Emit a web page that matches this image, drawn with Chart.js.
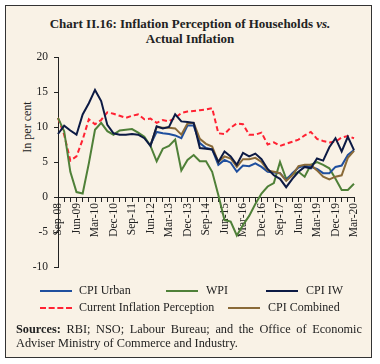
<!DOCTYPE html>
<html>
<head>
<meta charset="utf-8">
<script src="https://cdn.jsdelivr.net/npm/chart.js@4.4.1/dist/chart.umd.min.js"></script>
<style>
  body { margin: 0; background: #fff; }
  #wrap { position: relative; width: 380px; height: 364px; overflow: hidden; font-family: "Liberation Serif", serif; color: #222; }
  #panel { position: absolute; left: 5px; top: 5px; width: 367px; height: 353px; box-sizing: border-box; border: 1.5px solid #333; background: #f9f2e6; }
  #title { position: absolute; left: 0; top: 16px; width: 380px; text-align: center; font-weight: bold; font-size: 13px; line-height: 15px; color: #222; }
  #ytitle { position: absolute; left: 27px; top: 127px; transform: translate(-50%, -50%) rotate(-90deg); font-size: 12px; white-space: nowrap; }
  canvas { position: absolute; left: 0; top: 0; }
  .sw { position: absolute; width: 32px; height: 0; border-top: 2px solid; }
  .lt { position: absolute; font-size: 12px; line-height: 14px; white-space: nowrap; }
  #src { position: absolute; left: 16px; top: 322px; width: 346px; font-size: 12.3px; line-height: 14px; text-align: justify; text-align-last: left; }
</style>
</head>
<body>
<div id="wrap">
  <div id="panel"></div>
  <div id="title">Chart II.16: Inflation Perception of Households <i>vs.</i><br>Actual Inflation</div>
  <div id="ytitle">In per cent</div>
  <canvas id="chart" width="380" height="364"></canvas>

  <div class="sw" style="left:40px;top:290px;border-color:#1f4f9e"></div><div class="lt" style="left:79px;top:283px">CPI Urban</div>
  <div class="sw" style="left:166px;top:290px;border-color:#4f8038"></div><div class="lt" style="left:206px;top:283px">WPI</div>
  <div class="sw" style="left:266px;top:290px;border-color:#0c1a44"></div><div class="lt" style="left:306px;top:283px">CPI IW</div>
  <div class="sw" style="left:40px;top:307px;border-top:2px dashed #ff2233"></div><div class="lt" style="left:79px;top:300px">Current Inflation Perception</div>
  <div class="sw" style="left:228px;top:307px;border-color:#8a6a38"></div><div class="lt" style="left:268px;top:300px">CPI Combined</div>

  <div id="src"><b>Sources:</b> RBI; NSO; Labour Bureau; and the Office of Economic Adviser Ministry of Commerce and Industry.</div>
</div>

<script>
const quarters = ['Sep-08', 'Dec-08',
  'Mar-09', 'Jun-09', 'Sep-09', 'Dec-09', 'Mar-10', 'Jun-10', 'Sep-10', 'Dec-10',
  'Mar-11', 'Jun-11', 'Sep-11', 'Dec-11', 'Mar-12', 'Jun-12', 'Sep-12', 'Dec-12',
  'Mar-13', 'Jun-13', 'Sep-13', 'Dec-13', 'Mar-14', 'Jun-14', 'Sep-14', 'Dec-14',
  'Mar-15', 'Jun-15', 'Sep-15', 'Dec-15', 'Mar-16', 'Jun-16', 'Sep-16', 'Dec-16',
  'Mar-17', 'Jun-17', 'Sep-17', 'Dec-17', 'Mar-18', 'Jun-18', 'Sep-18', 'Dec-18',
  'Mar-19', 'Jun-19', 'Sep-19', 'Dec-19', 'Jan-20', 'Feb-20', 'Mar-20'];

const cpiIW = [9.0, 10.2, 9.5, 8.9, 11.8, 13.4, 15.3, 13.7, 10.3, 9.1, 8.9, 8.9, 9.0, 8.9, 8.4, 7.3,
  10.1, 9.8, 10.0, 11.8, 10.8, 10.7, 10.6, 7.0, 6.9, 6.8, 5.0, 6.5, 5.8, 4.6, 6.3, 5.8, 6.2, 5.4,
  4.0, 3.1, 2.6, 1.4, 2.6, 3.6, 4.3, 4.1, 5.5, 5.2, 7.1, 8.4, 6.5, 8.6, 6.7];

const wpi = [11.3, 9.4, 3.6, 0.7, 0.5, 4.8, 9.6, 10.6, 9.4, 8.9, 9.5, 9.6, 9.7, 9.2, 8.6, 7.3,
  5.1, 6.9, 7.3, 8.2, 3.8, 5.3, 6.0, 5.1, 5.1, 3.6, 0.3, -3.3, -3.5, -5.5, -4.0, -2.7, -1.0, 0.5,
  1.5, 2.0, 5.0, 2.6, 3.2, 3.6, 2.9, 4.6, 5.0, 4.6, 4.1, 2.6, 1.0, 1.0, 1.9];

const perception = [11.3, 8.9, 5.2, 5.8, 8.2, 11.1, 10.4, 11.0, 12.1, 11.9, 11.6, 11.3, 11.6, 11.8,
  11.1, 11.2, 10.6, 11.0, 10.8, 11.3, 12.0, 12.2, 12.3, 12.4, 12.5, 12.7, 9.1, 9.0, 9.9, 10.5, 10.4,
  8.9, 8.9, 9.2, 7.5, 7.8, 7.3, 7.6, 7.9, 8.2, 8.8, 9.3, 8.3, 8.0, 7.8, 7.9, 8.5, 8.7, 8.4];

// CPI Urban and CPI Combined only start in Jun-12
const cpiUrban = [null, null, null, null, null, null, null, null, null, null, null, null, null, null, null,
  7.5, 9.3, 9.1, 9.0, 8.8, 8.4, 10.2, 10.2, 7.7, 7.0, 6.8, 4.6, 5.3, 4.9, 3.6, 4.5, 4.4, 4.8, 4.3,
  3.6, 3.5, 3.4, 2.4, 3.4, 4.2, 4.5, 4.3, 4.0, 3.4, 3.4, 4.3, 4.5, 6.0, 6.7];

const cpiCombined = [null, null, null, null, null, null, null, null, null, null, null, null, null, null, null,
  7.4, 10.0, 9.9, 9.9, 9.8, 8.9, 10.5, 10.6, 8.3, 7.6, 7.2, 5.0, 5.8, 5.5, 4.3, 5.4, 5.4, 5.6, 5.0,
  3.8, 3.6, 3.4, 2.3, 3.1, 4.4, 4.6, 4.6, 3.8, 2.9, 2.5, 2.9, 3.1, 5.6, 6.6];

const axisFont = { family: 'Liberation Serif', size: 11.5 };

function line(data, color, dash) {
  return {
    data: data,
    borderColor: color,
    borderWidth: 2,
    borderDash: dash || [],
    pointRadius: 0,
    tension: 0,
    fill: false
  };
}

new Chart(document.getElementById('chart'), {
  type: 'line',
  data: {
    labels: quarters,
    datasets: [
      line(cpiIW, '#0c1a44'),
      line(cpiCombined, '#8a6a38'),
      line(cpiUrban, '#1f4f9e'),
      line(wpi, '#4f8038'),
      line(perception, '#ff2233', [5, 3])
    ]
  },
  options: {
    responsive: false,
    animation: false,
    layout: { padding: { top: 57, right: 26, bottom: 97, left: 0 } },
    plugins: { legend: { display: false }, tooltip: { enabled: false } },
    scales: {
      x: {
        position: { y: 0 },
        offset: false,
        grid: { drawOnChartArea: false, drawTicks: true, tickLength: 4, color: '#222' },
        border: { color: '#222', width: 1 },
        ticks: {
          autoSkip: false,
          maxRotation: 90,
          minRotation: 90,
          padding: 2,
          color: '#222',
          font: axisFont,
          callback: function (value, index) {
            return index % 3 === 0 ? quarters[index] : '';
          }
        },
        afterFit: function (scale) { scale.height = 0; }
      },
      y: {
        min: -10,
        max: 20,
        grid: { drawOnChartArea: false, drawTicks: true, tickLength: 4, color: '#222' },
        border: { color: '#222', width: 1 },
        ticks: { stepSize: 5, padding: 6, color: '#222', font: axisFont },
        afterFit: function (scale) { scale.width = 58; }
      }
    }
  }
});
</script>
</body>
</html>
